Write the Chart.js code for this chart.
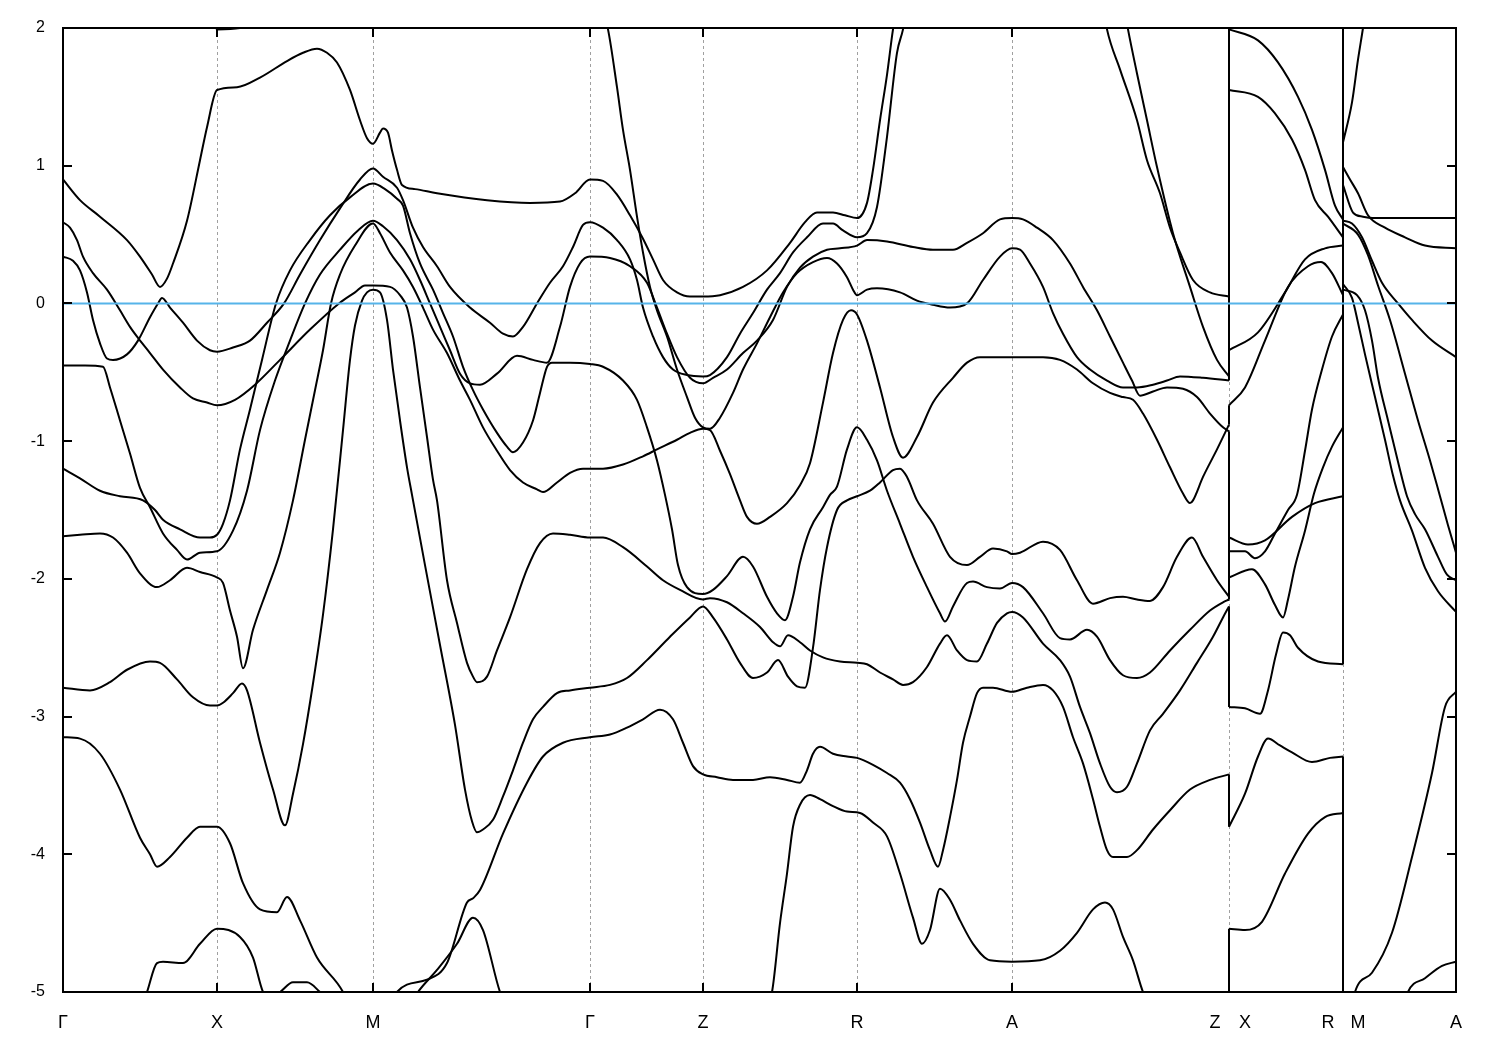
<!DOCTYPE html>
<html>
<head>
<meta charset="utf-8">
<title>Band structure</title>
<script src="https://cdn.jsdelivr.net/npm/chart.js@4/dist/chart.umd.min.js"></script>
<style>
body{margin:0;background:#fff;}
canvas{display:block;}
</style>
</head>
<body>
<canvas id="bands" width="1500" height="1050"></canvas>
<script>
// k along the path (arbitrary units), E - Ef in eV
const kMin=0, kMax=1393;
const eMin=-5, eMax=2;
const fermi=0;

const kSym=[154,310,527,640,794,949,1166,1280];
const kLabelPos=[0,154,310,527,640,794,949,1152,1182,1265,1295,1393];
const kLabelText=["Γ","X","M","Γ","Z","R","A","Z","X","R","M","A"];

// a repeated k value marks a jump in the path (Z|X and R|M)
const band1=[[0,0.90],[17,0.75],[37,0.63],[64,0.46],[77,0.34],[89,0.21],[97,0.12],[104,0.18],[110,0.29],[124,0.60],[137,1.04],[144,1.28],[154,1.55],
[174,1.57],[197,1.64],[224,1.76],[240,1.82],[254,1.85],[264,1.82],[274,1.75],[287,1.55],[297,1.33],[304,1.20],[310,1.16],
[317,1.24],[320,1.27],[325,1.24],[329,1.11],[334,0.97],[339,0.86],[352,0.83],[374,0.80],[424,0.75],[467,0.73],[497,0.74],[512,0.80],[527,0.90],
[540,0.89],[554,0.79],[567,0.64],[580,0.47],[590,0.32],[600,0.17],[614,0.08],[627,0.05],[640,0.05],
[657,0.06],[680,0.12],[704,0.24],[727,0.44],[742,0.59],[754,0.66],[770,0.66],[782,0.64],[794,0.62],
[804,0.73],[810,0.97],[817,1.33],[824,1.66],[830,1.99],[845,2.6],[1030,2.6],
[1044,1.99],[1057,1.70],[1074,1.33],[1084,1.04],[1097,0.80],[1107,0.55],[1117,0.37],[1130,0.17],[1147,0.08],[1166,0.05],
[1166,1.99],[1195,1.91],[1215,1.75],[1235,1.50],[1249,1.26],[1262,0.97],[1272,0.71],[1280,0.61],
[1280,2.4],[1393,2.6]];

const band2=[[0,0.59],[7,0.55],[14,0.46],[20,0.34],[30,0.22],[44,0.10],[57,-0.05],[67,-0.17],[75,-0.25],[87,-0.36],[100,-0.48],[117,-0.61],[130,-0.69],[144,-0.72],[154,-0.74],
[172,-0.70],[192,-0.59],[217,-0.41],[247,-0.19],[276,0.00],[292,0.08],[302,0.13],[310,0.13],
[327,0.12],[337,0.06],[344,-0.03],[350,-0.24],[357,-0.61],[364,-0.97],[370,-1.28],[374,-1.43],[384,-2.01],[394,-2.32],[404,-2.61],[410,-2.71],[414,-2.75],[424,-2.71],[434,-2.52],[447,-2.28],[464,-1.93],[477,-1.74],[490,-1.67],[507,-1.68],[527,-1.70],
[540,-1.70],[560,-1.77],[584,-1.91],[600,-2.01],[617,-2.08],[640,-2.15],
[647,-2.14],[664,-2.17],[680,-2.25],[697,-2.35],[710,-2.46],[717,-2.49],[725,-2.41],[737,-2.46],[747,-2.52],[760,-2.57],[777,-2.60],[794,-2.61],
[804,-2.62],[817,-2.68],[830,-2.73],[840,-2.77],[850,-2.75],[864,-2.64],[877,-2.47],[884,-2.41],[894,-2.52],[904,-2.59],[914,-2.60],[924,-2.47],[934,-2.32],[944,-2.25],[949,-2.24],
[960,-2.28],[980,-2.47],[997,-2.59],[1007,-2.71],[1017,-2.93],[1027,-3.12],[1037,-3.34],[1047,-3.51],[1054,-3.55],[1064,-3.51],[1074,-3.34],[1087,-3.10],[1100,-2.98],[1117,-2.81],[1134,-2.61],[1150,-2.42],[1160,-2.28],[1166,-2.20],
[1166,-2.93],[1182,-2.94],[1197,-2.98],[1205,-2.81],[1213,-2.55],[1220,-2.39],[1227,-2.41],[1235,-2.50],[1255,-2.60],[1280,-2.62],
[1280,0.10],[1294,0.06],[1302,-0.05],[1309,-0.27],[1315,-0.54],[1325,-0.85],[1335,-1.15],[1344,-1.40],[1352,-1.53],[1362,-1.64],[1375,-1.84],[1384,-1.97],[1393,-2.01]];

const band3=[[0,0.34],[10,0.31],[17,0.24],[24,0.08],[30,-0.12],[37,-0.29],[44,-0.40],[50,-0.41],[64,-0.37],[75,-0.27],[87,-0.10],[95,0.00],[99,0.04],[107,-0.03],[120,-0.14],[134,-0.27],[147,-0.34],[154,-0.35],
[170,-0.32],[187,-0.27],[204,-0.14],[221,0.00],[237,0.21],[257,0.46],[277,0.69],[297,0.90],[310,0.98],
[320,0.92],[334,0.84],[340,0.75],[350,0.55],[360,0.41],[374,0.27],[387,0.12],[407,-0.03],[427,-0.14],[440,-0.22],[450,-0.24],[460,-0.17],[474,0.00],[487,0.15],[500,0.27],[510,0.41],[520,0.57],[527,0.59],
[540,0.55],[554,0.46],[567,0.32],[574,0.17],[580,-0.03],[590,-0.24],[600,-0.39],[610,-0.48],[624,-0.52],[640,-0.53],
[647,-0.52],[664,-0.39],[677,-0.22],[690,-0.07],[704,0.10],[717,0.22],[730,0.37],[744,0.48],[760,0.58],[770,0.58],[780,0.53],[794,0.48],
[804,0.51],[814,0.70],[824,1.21],[834,1.82],[840,1.99],[855,2.6],[1050,2.6],
[1065,1.99],[1074,1.67],[1084,1.33],[1094,0.99],[1110,0.51],[1127,0.12],[1140,-0.17],[1154,-0.41],[1166,-0.53],
[1166,1.55],[1195,1.50],[1212,1.38],[1229,1.19],[1242,0.97],[1252,0.75],[1265,0.63],[1280,0.48],
[1280,1.17],[1289,1.46],[1295,1.77],[1300,2.0],[1312,2.6],[1393,3.0]];

const band4=[[0,-0.45],[22,-0.45],[40,-0.46],[47,-0.61],[57,-0.85],[67,-1.09],[77,-1.34],[87,-1.48],[100,-1.67],[114,-1.79],[124,-1.86],[137,-1.81],[154,-1.80],
[170,-1.65],[184,-1.36],[197,-0.92],[212,-0.56],[227,-0.27],[242,0.00],[257,0.21],[277,0.39],[295,0.53],[310,0.60],
[320,0.56],[334,0.46],[347,0.32],[357,0.17],[367,0.00],[377,-0.17],[387,-0.34],[397,-0.51],[407,-0.58],[417,-0.59],[434,-0.51],[454,-0.38],[470,-0.41],[484,-0.43],[497,-0.17],[507,0.12],[517,0.29],[527,0.34],
[547,0.33],[567,0.27],[584,0.15],[594,-0.03],[604,-0.22],[614,-0.39],[627,-0.54],[640,-0.58],
[650,-0.54],[664,-0.48],[680,-0.36],[694,-0.27],[710,-0.12],[724,0.12],[737,0.26],[750,0.34],[764,0.39],[777,0.40],[794,0.42],
[804,0.46],[824,0.45],[850,0.41],[870,0.39],[890,0.39],[904,0.44],[920,0.51],[937,0.61],[949,0.62],
[960,0.61],[974,0.55],[990,0.46],[1007,0.29],[1020,0.12],[1034,-0.05],[1047,-0.24],[1060,-0.43],[1069,-0.56],[1077,-0.67],[1090,-0.64],[1104,-0.61],[1120,-0.62],[1134,-0.68],[1147,-0.80],[1160,-0.90],[1166,-0.93],
[1166,-1.80],[1182,-1.80],[1192,-1.85],[1202,-1.80],[1212,-1.67],[1225,-1.50],[1234,-1.39],[1242,-1.07],[1249,-0.77],[1259,-0.48],[1269,-0.24],[1280,-0.08],
[1280,0.60],[1289,0.58],[1299,0.48],[1309,0.31],[1319,0.15],[1335,0.00],[1349,-0.12],[1369,-0.27],[1393,-0.39]];

const band5=[[0,-1.20],[17,-1.27],[37,-1.36],[57,-1.40],[80,-1.43],[92,-1.50],[100,-1.57],[117,-1.64],[137,-1.70],[147,-1.70],[154,-1.68],
[160,-1.60],[167,-1.43],[177,-1.06],[187,-0.77],[199,-0.41],[213,0.00],[227,0.24],[247,0.46],[267,0.64],[287,0.77],[310,0.87],
[322,0.83],[334,0.76],[340,0.71],[347,0.51],[357,0.29],[370,0.10],[380,-0.07],[390,-0.24],[400,-0.46],[410,-0.63],[420,-0.77],[434,-0.94],[444,-1.04],[450,-1.08],[460,-1.01],[470,-0.85],[477,-0.65],[484,-0.46],[489,-0.43],[507,-0.43],[527,-0.44],
[540,-0.46],[560,-0.56],[574,-0.70],[584,-0.90],[594,-1.14],[602,-1.39],[609,-1.64],[615,-1.90],[624,-2.06],[640,-2.11],
[650,-2.08],[664,-1.98],[680,-1.84],[690,-1.91],[704,-2.13],[714,-2.25],[722,-2.30],[730,-2.13],[737,-1.88],[747,-1.64],[760,-1.48],[767,-1.39],[774,-1.33],[784,-1.06],[794,-0.90],
[804,-0.99],[814,-1.14],[824,-1.36],[837,-1.60],[850,-1.84],[864,-2.06],[877,-2.25],[882,-2.31],[890,-2.20],[904,-2.03],[910,-2.02],[924,-2.06],[937,-2.07],[949,-2.03],
[960,-2.06],[980,-2.25],[997,-2.43],[1007,-2.44],[1024,-2.37],[1034,-2.42],[1047,-2.59],[1060,-2.70],[1074,-2.72],[1087,-2.68],[1107,-2.52],[1127,-2.37],[1147,-2.23],[1160,-2.17],[1166,-2.15],
[1166,-1.99],[1189,-1.93],[1202,-2.04],[1212,-2.19],[1220,-2.28],[1225,-2.15],[1232,-1.91],[1242,-1.65],[1251,-1.38],[1260,-1.19],[1269,-1.04],[1280,-0.90],
[1280,0.58],[1295,0.50],[1305,0.35],[1315,0.13],[1327,-0.12],[1342,-0.51],[1355,-0.85],[1367,-1.14],[1377,-1.40],[1385,-1.61],[1393,-1.81]];

const band6=[[0,-1.69],[17,-1.68],[37,-1.67],[50,-1.70],[64,-1.81],[77,-1.96],[94,-2.06],[107,-2.01],[124,-1.92],[137,-1.95],[154,-1.99],
[160,-2.03],[167,-2.23],[174,-2.42],[180,-2.65],[190,-2.37],[204,-2.08],[217,-1.81],[230,-1.43],[242,-0.99],[252,-0.63],[260,-0.34],[268,0.00],[277,0.21],[292,0.42],[310,0.58],
[317,0.51],[327,0.37],[340,0.24],[350,0.12],[360,-0.03],[370,-0.19],[384,-0.36],[397,-0.56],[407,-0.70],[420,-0.90],[434,-1.07],[447,-1.21],[460,-1.30],[474,-1.35],[480,-1.37],[494,-1.30],[507,-1.23],[520,-1.20],[527,-1.20],
[540,-1.20],[560,-1.17],[580,-1.11],[594,-1.06],[614,-0.99],[627,-0.94],[640,-0.91],
[647,-0.92],[657,-1.07],[667,-1.24],[677,-1.43],[684,-1.55],[694,-1.60],[707,-1.55],[724,-1.45],[737,-1.32],[747,-1.16],[760,-0.72],[770,-0.36],[780,-0.12],[788,-0.05],[794,-0.08],
[804,-0.27],[817,-0.61],[830,-0.97],[840,-1.12],[854,-0.97],[870,-0.72],[890,-0.54],[904,-0.43],[917,-0.39],[949,-0.39],
[980,-0.39],[997,-0.41],[1014,-0.48],[1030,-0.58],[1047,-0.65],[1060,-0.68],[1070,-0.70],[1080,-0.80],[1094,-0.99],[1107,-1.19],[1120,-1.38],[1127,-1.45],[1130,-1.43],[1140,-1.26],[1154,-1.06],[1166,-0.88],
[1166,-0.74],[1182,-0.61],[1202,-0.27],[1225,0.12],[1245,0.27],[1258,0.30],[1269,0.22],[1280,0.06],
[1280,0.86],[1290,0.66],[1300,0.63],[1310,0.62],[1393,0.62]];

const band7=[[0,-2.79],[27,-2.81],[47,-2.75],[64,-2.66],[87,-2.60],[97,-2.61],[114,-2.73],[130,-2.86],[147,-2.92],[154,-2.92],
[160,-2.90],[170,-2.83],[179,-2.76],[184,-2.81],[197,-3.19],[210,-3.53],[222,-3.79],[230,-3.56],[240,-3.20],[250,-2.76],[260,-2.26],[270,-1.64],[280,-0.92],[287,-0.41],[292,-0.16],[299,0.02],[304,0.08],[310,0.10],
[317,0.08],[324,-0.12],[330,-0.48],[337,-0.85],[344,-1.19],[349,-1.39],[362,-1.90],[377,-2.48],[392,-3.06],[402,-3.53],[409,-3.76],[414,-3.84],[420,-3.82],[430,-3.75],[440,-3.58],[450,-3.39],[460,-3.19],[470,-3.02],[480,-2.93],[494,-2.83],[507,-2.81],[527,-2.79],
[547,-2.77],[564,-2.72],[584,-2.59],[607,-2.42],[627,-2.28],[640,-2.20],
[650,-2.28],[664,-2.44],[677,-2.61],[690,-2.72],[704,-2.68],[715,-2.59],[725,-2.71],[734,-2.78],[742,-2.79],[750,-2.50],[757,-2.08],[764,-1.77],[774,-1.50],[784,-1.43],[794,-1.40],
[807,-1.36],[817,-1.30],[830,-1.21],[837,-1.20],[844,-1.26],[854,-1.43],[870,-1.60],[887,-1.84],[904,-1.90],[917,-1.84],[930,-1.78],[944,-1.80],[949,-1.82],
[957,-1.81],[980,-1.73],[997,-1.79],[1014,-2.01],[1030,-2.18],[1047,-2.14],[1060,-2.13],[1074,-2.15],[1087,-2.16],[1100,-2.06],[1114,-1.84],[1129,-1.70],[1140,-1.84],[1154,-2.01],[1166,-2.13],
[1166,-1.70],[1185,-1.75],[1202,-1.72],[1229,-1.55],[1252,-1.45],[1280,-1.40],
[1280,0.14],[1289,0.04],[1295,-0.14],[1302,-0.37],[1312,-0.68],[1322,-0.99],[1330,-1.25],[1337,-1.43],[1349,-1.65],[1362,-1.92],[1375,-2.09],[1393,-2.24]];

const band8=[[0,-3.15],[17,-3.16],[37,-3.27],[57,-3.53],[77,-3.88],[87,-4.00],[94,-4.09],[107,-4.02],[124,-3.88],[137,-3.80],[154,-3.80],
[167,-3.92],[180,-4.21],[197,-4.40],[214,-4.42],[224,-4.31],[237,-4.48],[254,-4.75],[280,-5.00],[297,-5.3],[310,-5.4],[320,-5.3],[334,-5.00],[364,-4.91],[384,-4.79],[404,-4.35],[410,-4.32],[417,-4.26],[440,-3.85],[464,-3.48],[480,-3.29],[500,-3.19],[527,-3.15],
[547,-3.13],[564,-3.08],[580,-3.02],[597,-2.95],[610,-3.02],[620,-3.19],[630,-3.36],[640,-3.42],
[654,-3.44],[670,-3.46],[690,-3.46],[707,-3.44],[724,-3.46],[737,-3.48],[744,-3.39],[750,-3.27],[757,-3.22],[770,-3.27],[784,-3.29],[794,-3.30],
[810,-3.35],[824,-3.41],[837,-3.48],[847,-3.60],[857,-3.77],[867,-3.97],[875,-4.09],[880,-3.97],[887,-3.73],[894,-3.46],[900,-3.19],[907,-3.00],[914,-2.83],[920,-2.79],[930,-2.79],[949,-2.82],
[964,-2.79],[980,-2.77],[990,-2.81],[1000,-2.93],[1010,-3.15],[1020,-3.34],[1030,-3.60],[1037,-3.80],[1044,-3.97],[1050,-4.02],[1064,-4.02],[1074,-3.97],[1090,-3.82],[1107,-3.68],[1127,-3.53],[1147,-3.46],[1166,-3.42],
[1166,-3.80],[1182,-3.56],[1195,-3.29],[1205,-3.16],[1217,-3.21],[1229,-3.26],[1249,-3.33],[1267,-3.30],[1280,-3.29],
[1280,-5.5],[1292,-5.00],[1309,-4.86],[1329,-4.57],[1349,-4.02],[1369,-3.41],[1382,-2.93],[1393,-2.82]];

const band9=[[0,2.8],[140,2.6],[154,1.99],[177,2.0],[195,2.6],[520,2.6],
[545,1.99],[554,1.57],[560,1.26],[567,0.97],[574,0.63],[580,0.37],[587,0.12],[594,-0.05],[604,-0.24],[614,-0.48],[624,-0.68],[632,-0.83],[640,-0.90],
[647,-0.91],[657,-0.83],[670,-0.65],[680,-0.48],[694,-0.29],[707,-0.10],[720,0.08],[734,0.22],[750,0.30],[764,0.33],[774,0.29],[784,0.19],[790,0.10],[794,0.06],
[804,0.10],[814,0.11],[837,0.08],[854,0.02],[870,-0.01],[887,-0.03],[904,0.00],[920,0.17],[937,0.34],[949,0.40],
[957,0.39],[967,0.29],[980,0.12],[990,-0.07],[1000,-0.22],[1014,-0.39],[1027,-0.48],[1044,-0.56],[1060,-0.61],[1074,-0.61],[1090,-0.59],[1104,-0.56],[1117,-0.53],[1140,-0.54],[1166,-0.56],
[1166,-0.34],[1195,-0.21],[1222,0.08],[1242,0.32],[1262,0.40],[1280,0.42],
[1280,0.99],[1287,0.90],[1295,0.80],[1305,0.64],[1322,0.55],[1342,0.48],[1362,0.42],[1393,0.40]];

const band10=[[0,-5.8],[60,-5.5],[84,-5.00],[94,-4.79],[100,-4.78],[120,-4.79],[137,-4.65],[154,-4.54],[177,-4.60],[190,-4.75],[200,-5.00],[207,-5.04],[217,-5.00],[230,-4.93],[244,-4.93],[257,-5.00],[300,-5.3],[330,-5.3],[355,-5.00],[374,-4.84],[394,-4.65],[410,-4.46],[420,-4.55],[437,-5.00],[470,-5.5],[650,-5.6],[690,-5.3],[709,-5.00],[717,-4.50],[724,-4.14],[730,-3.80],[737,-3.64],[747,-3.57],[757,-3.60],[770,-3.65],[784,-3.69],[797,-3.70],
[810,-3.77],[824,-3.87],[837,-4.14],[850,-4.46],[859,-4.65],[867,-4.55],[877,-4.25],[887,-4.33],[897,-4.48],[910,-4.65],[927,-4.77],[949,-4.78],
[977,-4.77],[997,-4.70],[1014,-4.57],[1030,-4.40],[1042,-4.35],[1050,-4.40],[1060,-4.60],[1070,-4.77],[1080,-5.00],[1110,-5.4],[1166,-5.6],
[1166,-4.54],[1182,-4.55],[1199,-4.49],[1222,-4.14],[1245,-3.85],[1262,-3.73],[1280,-3.70],
[1280,-5.6],[1330,-5.4],[1345,-5.00],[1362,-4.90],[1379,-4.81],[1393,-4.78]];

const bands=[band1,band2,band3,band4,band5,band6,band7,band8,band9,band10];

function splitBand(band){
const segs=[[]];
band.forEach((p,i)=>{
if(i>0&&p[0]===band[i-1][0]) segs.push([]);
segs[segs.length-1].push(p);
});
return segs;
}

function toXY(list){
return list.map(p=>({x:p[0],y:p[1]}));
}

const datasets=[];

datasets.push({
data:[{x:kMin,y:fermi},{x:kMax,y:fermi}],
borderColor:"#56b4e9",
borderWidth:2,
tension:0,
order:0
});

bands.forEach(b=>{
const segs=splitBand(b);
segs.forEach((s,i)=>{
datasets.push({
data:toXY(s),
borderColor:"#000",
borderWidth:2,
cubicInterpolationMode:"monotone",
order:1
});
if(i>0){
// vertical jump where the path is discontinuous
const prev=segs[i-1][segs[i-1].length-1];
datasets.push({
data:toXY([prev,s[0]]),
borderColor:"#000",
borderWidth:2,
tension:0,
order:1
});
}
});
});

const frame={
id:"frame",
beforeDatasetsDraw(chart){
const {ctx,chartArea:a,scales:{x}}=chart;
ctx.save();
ctx.strokeStyle="#a0a0a0";
ctx.lineWidth=1;
ctx.setLineDash([3,3]);
kSym.forEach(k=>{
const px=Math.round(x.getPixelForValue(k))+0.5;
ctx.beginPath();
ctx.moveTo(px,a.top);
ctx.lineTo(px,a.bottom);
ctx.stroke();
});
ctx.restore();
},
afterDatasetsDraw(chart){
const {ctx,chartArea:a,scales:{x,y}}=chart;
const len=9;
ctx.save();
ctx.strokeStyle="#000";
ctx.lineWidth=2;
ctx.beginPath();
for(let v=eMin;v<=eMax;v++){
const py=Math.round(y.getPixelForValue(v));
ctx.moveTo(a.left,py);ctx.lineTo(a.left+len,py);
ctx.moveTo(a.right,py);ctx.lineTo(a.right-len,py);
}
kSym.forEach(k=>{
const px=Math.round(x.getPixelForValue(k));
ctx.moveTo(px,a.bottom);ctx.lineTo(px,a.bottom-len);
ctx.moveTo(px,a.top);ctx.lineTo(px,a.top+len);
});
ctx.stroke();
ctx.strokeRect(a.left,a.top,a.right-a.left,a.bottom-a.top);
ctx.restore();
}
};

new Chart(document.getElementById("bands"),{
type:"line",
data:{datasets},
options:{
responsive:false,
animation:false,
devicePixelRatio:1,
events:[],
layout:{padding:{left:0,right:44,top:28,bottom:0}},
elements:{
point:{radius:0},
line:{capBezierPoints:false,fill:false}
},
plugins:{legend:{display:false},tooltip:{enabled:false}},
scales:{
x:{
type:"linear",
min:kMin,
max:kMax,
afterFit(s){s.height=58;},
afterBuildTicks(s){s.ticks=kLabelPos.map(v=>({value:v}));},
grid:{display:false,drawTicks:false},
border:{display:false},
ticks:{
autoSkip:false,
maxRotation:0,
minRotation:0,
padding:20,
color:"#000",
font:{family:"'Liberation Sans', Arial, sans-serif",size:18},
callback:(v,i)=>kLabelText[i]
}
},
y:{
type:"linear",
min:eMin,
max:eMax,
afterFit(s){s.width=63;},
grid:{display:false,drawTicks:false},
border:{display:false},
ticks:{
stepSize:1,
padding:18,
color:"#000",
font:{family:"'Liberation Sans', Arial, sans-serif",size:16}
}
}
}
},
plugins:[frame]
});
</script>
</body>
</html>
